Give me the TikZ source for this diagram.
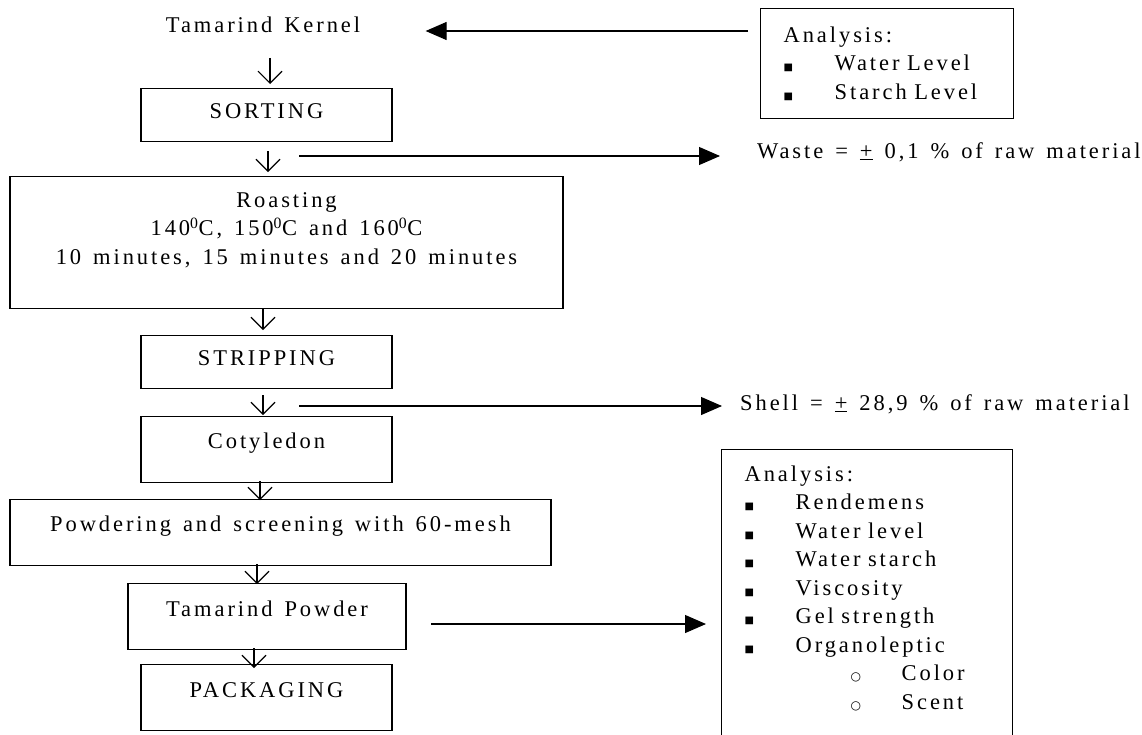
\documentclass[tikz,border=0pt]{standalone}
\usepackage{fontspec}
\setmainfont{Liberation Serif}[LetterSpace=13, WordSpace=1.4]
\newfontfamily\symfont{DejaVu Sans}
\usetikzlibrary{arrows.meta}

\newcommand{\flowsize}{\fontsize{22.5}{28.5}\selectfont}
\newcommand{\sqbullet}{\makebox[51pt][l]{\symfont\fontsize{10}{10}\selectfont ■}}
\newcommand{\subbullet}{\hspace*{106pt}\makebox[51pt][l]{\symfont\fontsize{12}{12}\selectfont ○}}

\begin{document}
\begin{tikzpicture}[x=1pt, y=-1pt, every node/.style={font=\flowsize},
    stage/.style={draw, line width=1.3pt, inner ysep=0pt, text height=30pt, text depth=23pt, anchor=north},
    stagetall/.style={stage, text height=32pt, text depth=34pt},
    listbox/.style={draw, line width=1.3pt, anchor=north west, align=left, inner xsep=23pt, inner ysep=0pt},
    note/.style={anchor=base west, inner sep=0pt},
    vflow/.style={-{Straight Barb[length=12pt, width=24pt]}, line width=1.1pt},
    hflow/.style={-{Triangle[length=21pt, width=18pt]}, line width=1.1pt}]
    \useasboundingbox (0,0) rectangle (1142,734);
    % main process column
    \node [anchor=base] (kernel) at (263,32) {Tamarind Kernel};
    \node [stage, minimum width=251pt] (sorting) at (266.5,88) {SORTING};
    \node [draw, line width=1.3pt, anchor=north, align=center, minimum width=553pt, minimum height=132pt] (roasting) at (286.5,176)
        {Roasting\\140\textsuperscript{0}C, 150\textsuperscript{0}C and 160\textsuperscript{0}C\\10 minutes, 15 minutes and 20 minutes\\\mbox{}};
    \node [stage, minimum width=251pt] (stripping) at (266.5,335) {STRIPPING};
    \node [stagetall, minimum width=251pt] (cotyledon) at (266.5,416) {Cotyledon};
    \node [stagetall, minimum width=541pt] (powdering) at (280.5,499) {Powdering and screening with 60-mesh};
    \node [stagetall, minimum width=278pt, text height=33pt, text depth=33pt] (powder) at (267,583) {Tamarind Powder};
    \node [stagetall, minimum width=251pt, text height=33pt, text depth=33pt] (packaging) at (266.5,664) {PACKAGING};
    % side notes
    \node [listbox, text width=207pt, minimum height=110pt] (ana1) at (760,8)
        {Analysis:\\\sqbullet Water Level\\\sqbullet Starch Level};
    \node [note] (waste) at (757,158) {Waste = \underline{+} 0,1 \% of raw material};
    \node [note] (shell) at (740,410) {Shell = \underline{+} 28,9 \% of raw material};
    \node [listbox, text width=245pt, minimum height=304pt] (ana2) at (721,449)
        {Analysis:\\\sqbullet Rendemens\\\sqbullet Water level\\\sqbullet Water starch\\\sqbullet Viscosity\\\sqbullet Gel strength\\\sqbullet Organoleptic\\\subbullet Color\\\subbullet Scent\\\mbox{}};
    \coordinate (ana1in) at (748,31);
    \coordinate (wasteout) at (299,156);
    \coordinate (shellout) at (299,406);
    \coordinate (powderout) at (431,624);
    % vertical flow
    \draw [vflow, shorten <=22pt, shorten >=4pt] ([xshift=7pt]kernel.south) -- ([xshift=3.5pt]sorting.north);
    \draw [vflow, shorten <=9pt, shorten >=4pt] ([xshift=1.5pt]sorting.south) -- ([xshift=1.5pt]sorting.south |- roasting.north);
    \draw [vflow, shorten >=5pt] ([xshift=-3.5pt]stripping.north |- roasting.south) -- ([xshift=-3.5pt]stripping.north);
    \draw [vflow, shorten <=6pt, shorten >=1pt] ([xshift=-3.5pt]stripping.south) -- ([xshift=-3.5pt]cotyledon.north);
    \draw [vflow, shorten <=-2pt, shorten >=-1pt] ([xshift=-6.5pt]cotyledon.south) -- ([xshift=-6.5pt]cotyledon.south |- powdering.north);
    \draw [vflow, shorten <=-2pt, shorten >=-1pt] ([xshift=-10pt]powder.north |- powdering.south) -- ([xshift=-10pt]powder.north);
    \draw [vflow, shorten <=-2pt, shorten >=-4pt] ([xshift=-13pt]powder.south) -- ([xshift=-13pt]powder.south |- packaging.north);
    % side arrows
    \draw [hflow, shorten >=62pt] (ana1in) -- (ana1in -| kernel.east);
    \draw [hflow, shorten >=37pt] (wasteout) -- (wasteout -| waste.west);
    \draw [hflow, shorten >=18pt] (shellout) -- (shellout -| shell.west);
    \draw [hflow, shorten >=15pt] (powderout) -- (powderout -| ana2.west);
\end{tikzpicture}
\end{document}
